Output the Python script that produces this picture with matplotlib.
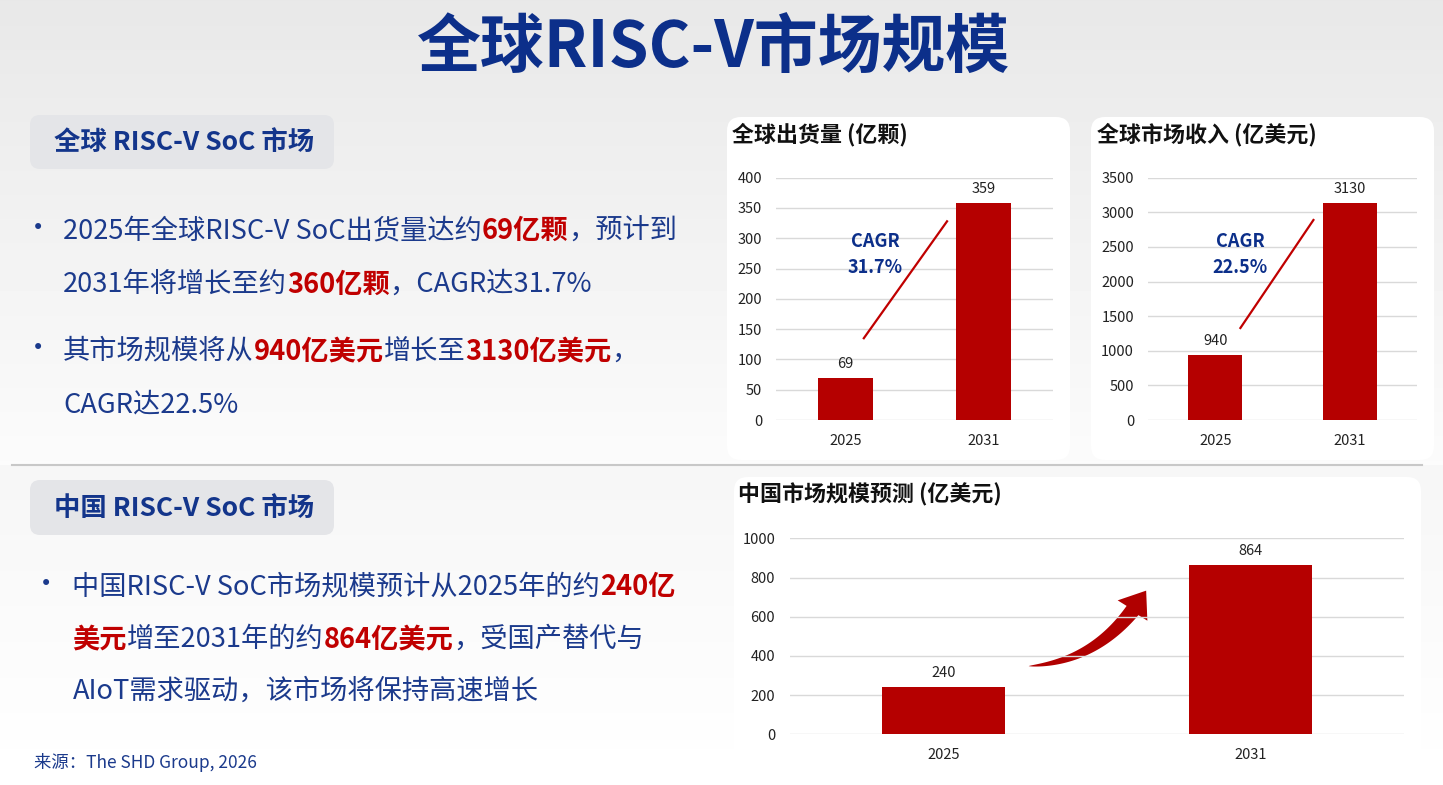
import numpy as np
import matplotlib
matplotlib.use('Agg')
import matplotlib.pyplot as plt
from matplotlib.patches import FancyBboxPatch, Polygon

plt.rcParams['font.family'] = ['Noto Sans CJK SC', 'DejaVu Sans']

# 数据
years = ['2025', '2031']
shipments = [69, 359]      # 亿颗
revenue = [940, 3130]      # 亿美元
china = [240, 864]         # 亿美元
cagr_ship = '31.7%'
cagr_rev = '22.5%'

title = '全球RISC-V市场规模'
head1 = '全球 RISC-V SoC 市场'
head2 = '中国 RISC-V SoC 市场'
t_ship = '全球出货量 (亿颗)'
t_rev = '全球市场收入 (亿美元)'
t_china = '中国市场规模预测 (亿美元)'
source = '来源：The SHD Group, 2026'

W, H = 1443, 785
NAVY = '#0c2f8a'
BLUE = '#1b3a8c'
RED = '#c00000'
BAR = '#b50000'
GRID = '#d9d9d9'

fig = plt.figure(figsize=(W / 100, H / 100), dpi=100)

# 背景层，坐标 = 像素
bg = fig.add_axes([0, 0, 1, 1])
bg.set_xlim(0, W)
bg.set_ylim(H, 0)
bg.axis('off')

grad = np.ones((H, 2))
grad[:465] = np.linspace(0.91, 0.985, 465)[:, None]
grad[465:] = np.linspace(0.965, 1.0, H - 465)[:, None]
bg.imshow(grad, cmap='gray', vmin=0, vmax=1, extent=(0, W, H, 0), aspect='auto', zorder=0)

bg.plot([12, 1422], [465, 465], color='#c8c8c8', lw=1.5, zorder=1)

def box(x0, y0, x1, y1, fc, r):
    bg.add_patch(FancyBboxPatch((x0, y0), x1 - x0, y1 - y0,
                                boxstyle=f'round,pad=0,rounding_size={r}',
                                fc=fc, ec='none', zorder=2))

box(30, 115, 334, 169, '#e4e5e8', 10)
box(30, 480, 334, 535, '#e4e5e8', 10)
box(727, 117, 1070, 460, 'white', 14)
box(1091, 117, 1434, 460, 'white', 14)
box(734, 477, 1421, 775, 'white', 14)

bg.text(714, 49, title, ha='center', va='center', fontsize=46, fontweight='bold', color=NAVY, zorder=3)
bg.text(53.7, 143, head1, ha='left', va='center', fontsize=19, fontweight='bold', color='#13358b', zorder=3)
bg.text(53.7, 509, head2, ha='left', va='center', fontsize=19, fontweight='bold', color='#13358b', zorder=3)
bg.text(33.5, 763, source, ha='left', va='center', fontsize=12.5, color=BLUE, zorder=3)

r = fig.canvas.get_renderer()

def runs(x, y, parts, size=19.6):
    for s, c in parts:
        w = 'bold' if c == RED else 'normal'
        t = bg.text(x, y, s, ha='left', va='center_baseline', fontsize=size,
                    fontweight=w, color=c, zorder=3)
        x += t.get_window_extent(renderer=r).width

for bx, by in [(37.6, 228), (37.6, 348.3), (46, 584)]:
    bg.text(bx, by, '•', ha='center', va='center', fontsize=15, color=BLUE,
            family='DejaVu Sans', zorder=3)

runs(62.9, 228, [('2025年全球RISC-V SoC出货量达约', BLUE), ('69亿颗', RED), ('，预计到', BLUE)])
runs(62.9, 281.7, [('2031年将增长至约', BLUE), ('360亿颗', RED), ('，CAGR达31.7%', BLUE)])
runs(62.9, 348.3, [('其市场规模将从', BLUE), ('940亿美元', RED), ('增长至', BLUE),
                   ('3130亿美元', RED), ('，', BLUE)])
runs(62.9, 401.7, [('CAGR达22.5%', BLUE)])
runs(72.5, 584, [('中国RISC-V SoC市场规模预计从2025年的约', BLUE), ('240亿', RED)])
runs(72.5, 636.7, [('美元', RED), ('增至2031年的约', BLUE), ('864亿美元', RED), ('，受国产替代与', BLUE)])
runs(72.5, 688.3, [('AIoT需求驱动，该市场将保持高速增长', BLUE)])

bg.text(731.5, 135, t_ship, ha='left', va='center', fontsize=15.8, fontweight='bold', color='#111111', zorder=3)
bg.text(1096.7, 135, t_rev, ha='left', va='center', fontsize=15.8, fontweight='bold', color='#111111', zorder=3)
bg.text(738.4, 495, t_china, ha='left', va='center', fontsize=15.8, fontweight='bold', color='#111111', zorder=3)

def chart(left, top, right, bottom, vals, ymax, step, ypad):
    ax = fig.add_axes([left / W, 1 - bottom / H, (right - left) / W, (bottom - top) / H])
    ax.patch.set_alpha(0)
    x = np.arange(len(years))
    bars = ax.bar(x, vals, width=0.4, color=BAR, zorder=2)
    ax.bar_label(bars, padding=5, fontsize=10.5, color='#222222')
    ax.set_xlim(-0.5, 1.5)
    ax.set_ylim(0, ymax)
    ax.set_yticks(np.arange(0, ymax + 1, step))
    ax.set_xticks(x, years)
    ax.yaxis.grid(True, color=GRID, lw=1)
    ax.set_axisbelow(True)
    for s in ax.spines.values():
        s.set_visible(False)
    ax.tick_params(length=0, labelsize=10.5, labelcolor='#222222')
    ax.tick_params(axis='y', pad=ypad)
    ax.tick_params(axis='x', pad=10)
    return ax

ax1 = chart(776, 177.7, 1053, 420, shipments, 400, 50, 10)
ax1.plot([0.134, 0.735], [135, 328], color=RED, lw=1.6, zorder=3)
ax1.text(0.214, 294, 'CAGR', ha='center', va='center', fontsize=13, fontweight='bold', color=NAVY)
ax1.text(0.214, 251, cagr_ship, ha='center', va='center', fontsize=13, fontweight='bold', color=NAVY)

ax2 = chart(1148, 177.7, 1417, 420, revenue, 3500, 500, 10)
ax2.plot([0.187, 0.730], [1329, 2889], color=RED, lw=1.6, zorder=3)
ax2.text(0.187, 2575, 'CAGR', ha='center', va='center', fontsize=13, fontweight='bold', color=NAVY)
ax2.text(0.187, 2196, cagr_rev, ha='center', va='center', fontsize=13, fontweight='bold', color=NAVY)

ax3 = chart(790.5, 538.3, 1403.7, 734.3, china, 1000, 200, 11)


def curved_arrow(ax, tail, ctrl, tip, head_len=24, head_w=36, tail_w=15, color='#b00000'):
    # 弯曲箭头：尾部尖细，逐渐变粗
    def px(p):
        d = ax.transData.transform(p)
        return np.array([d[0], H - d[1]])
    p0, c, p2 = px(tail), px(ctrl), px(tip)
    t = np.linspace(0, 1, 300)[:, None]
    pts = (1 - t) ** 2 * p0 + 2 * (1 - t) * t * c + t ** 2 * p2
    dist = np.hypot(*(pts - p2).T)
    k = np.where(dist >= head_len)[0][-1]
    shaft = pts[:k + 1]
    seg = np.hypot(*np.diff(shaft, axis=0).T)
    s = np.concatenate([[0], np.cumsum(seg)]) / seg.sum()
    tang = np.gradient(shaft, axis=0)
    tang /= np.hypot(*tang.T)[:, None]
    nrm = np.stack([-tang[:, 1], tang[:, 0]], axis=1)
    w = tail_w * (s ** 0.7)[:, None] / 2
    left = shaft + nrm * w
    right = shaft - nrm * w
    base = shaft[-1]
    d = (p2 - base) / np.hypot(*(p2 - base))
    n = np.array([-d[1], d[0]])
    poly = np.vstack([left, base + n * head_w / 2, p2, base - n * head_w / 2, right[::-1]])
    bg.add_patch(Polygon(poly, closed=True, fc=color, ec='none', zorder=5))


curved_arrow(ax3, (0.277, 348), (0.52, 370), (0.66, 733))

fig.savefig('out.png', dpi=100)
